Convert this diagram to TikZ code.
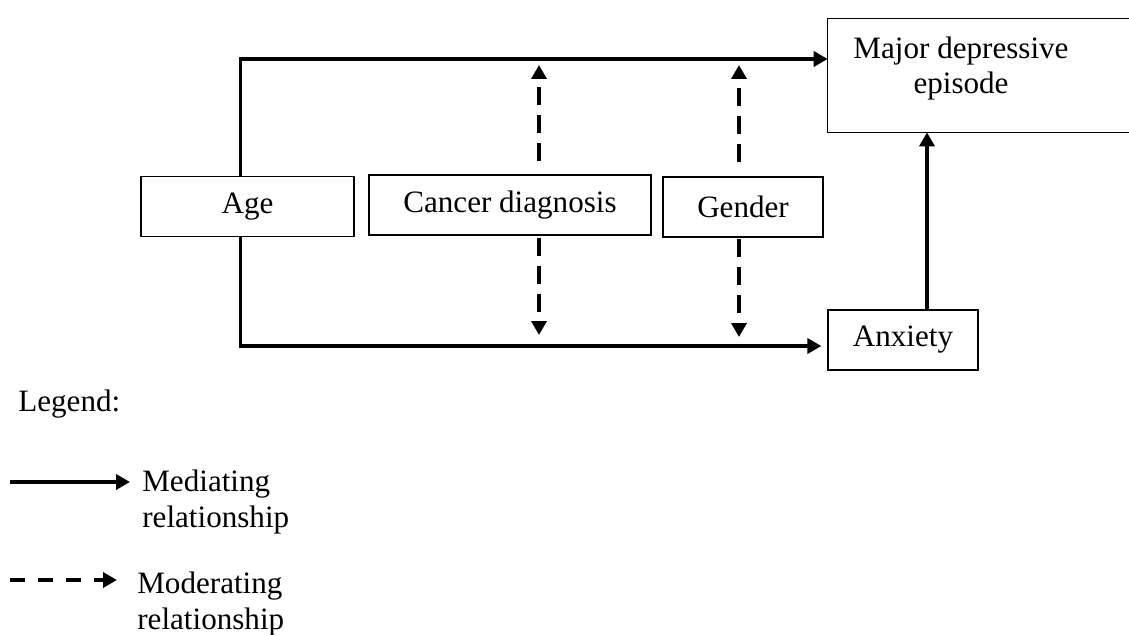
\documentclass[tikz,border=0pt]{standalone}
\usepackage{fontspec}
\setmainfont{Liberation Serif}
\usetikzlibrary{arrows.meta,calc}
\begin{document}
\begin{tikzpicture}[x=0.02cm, y=-0.02cm,
    every node/.style={font=\fontsize{17.7}{20}\selectfont},
    box/.style={rectangle, draw, line width=0.7pt, inner sep=0pt, minimum height=1.2cm},
    med/.style={line width=2.2pt, -{Triangle[length=0.28cm, width=0.3cm]}},
    mod/.style={med, dash pattern=on 0.36cm off 0.2cm},
    key/.style={anchor=west, align=left, inner sep=0pt}]
    \useasboundingbox (0,0) rectangle (1129,635);
    \node[box, minimum width=4.26cm] (age) at (247.5,206.5) {Age};
    \node[box, minimum width=5.64cm] (cancer) at (510,205) {Cancer diagnosis};
    \node[box, minimum width=3.2cm] (gender) at (743,207) {Gender};
    \node[box, minimum width=3cm] (anxiety) at (903,340) {Anxiety};
    \node[align=center, inner sep=0pt, minimum width=5.32cm, minimum height=2.54cm] (mde) at (961,68.5) {Major depressive\\episode};
    \draw[line width=0.7pt] ($(mde.south west)+(320,0)$) -- (mde.south west) -- ++(0,-114) -- ++(320,0);

    \node[anchor=west, inner sep=0pt] (legend) at (18,404) {Legend:};
    \node[key] (medtext) at (142,502) {Mediating\\relationship};
    \node[key] (modtext) at (137,604) {Moderating\\relationship};
    \coordinate (medstart) at (10,482);
    \coordinate (modstart) at (10,580);

    \coordinate (topline) at ($(mde.west)+(0,-9.5)$);
    \coordinate (botline) at ($(anxiety.west)+(0,6)$);
    \coordinate (agex) at ($(age.north)+(-7,0)$);
    \coordinate (cx) at ($(cancer.north)+(29,0)$);
    \coordinate (gx) at ($(gender.north)+(-4,0)$);
    \coordinate (ax) at ($(anxiety.north)+(24,0)$);

    \draw[med] (agex) |- (topline);
    \draw[med, shorten >=0.12cm] (agex |- age.south) |- (botline);
    \draw[med] (ax) -- (ax |- mde.south);
    \draw[mod, shorten <=0.26cm, shorten >=0.12cm] (cx) -- (cx |- topline);
    \draw[mod, shorten <=0.04cm, shorten >=0.22cm] (cx |- cancer.south) -- (cx |- botline);
    \draw[mod, shorten <=0.28cm, shorten >=0.12cm] (gx) -- (gx |- topline);
    \draw[mod, shorten <=0.02cm, shorten >=0.18cm] (gx |- gender.south) -- (gx |- botline);
    \draw[med, shorten >=0.24cm] (medstart) -- (medstart -| medtext.west);
    \draw[mod, dash pattern=on 0.3cm off 0.26cm, shorten >=0.4cm] (modstart) -- (modstart -| modtext.west);
\end{tikzpicture}
\end{document}
